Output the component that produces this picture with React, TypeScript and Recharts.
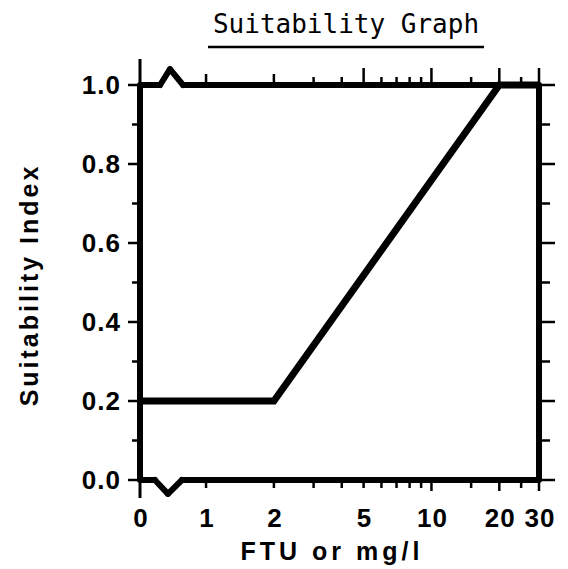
import { LineChart, Line, XAxis, YAxis, ReferenceLine } from 'recharts'

// curve: suitability index vs turbidity (FTU or mg/l)
const turbidity = [0, 2, 20, 30]
const suitability = [0.2, 0.2, 1.0, 1.0]

// x axis: 0 sits left of a break, the rest is log scale 1..30
const xTickValues = [0, 1, 2, 3, 4, 5, 6, 7, 8, 9, 10, 15, 20, 25, 30]
const xLabelled = [0, 1, 2, 5, 10, 20, 30]
const yTickValues = [0, 0.1, 0.2, 0.3, 0.4, 0.5, 0.6, 0.7, 0.8, 0.9, 1.0]
const yLabels = ['0.0', '', '0.2', '', '0.4', '', '0.6', '', '0.8', '', '1.0']

const ZERO_POS = -0.293
const U_MAX = Math.log10(30)
const toU = (v: number) => (v <= 0 ? ZERO_POS : Math.log10(v))

// axis-break marks on the frame (axis units)
const topFrame = [
  [ZERO_POS, 1],
  [-0.204, 1],
  [-0.16, 1.04],
  [-0.102, 1],
  [U_MAX, 1],
]
const bottomFrame = [
  [ZERO_POS, 0],
  [-0.227, 0],
  [-0.169, -0.035],
  [-0.107, 0],
  [U_MAX, 0],
]

const rows = turbidity.map((t, i) => ({ u: toU(t), si: suitability[i] }))

const FONT = "'Liberation Sans', Arial, Helvetica, sans-serif"
const W = 568
const H = 569
const M = { top: 85, right: 28, bottom: 88, left: 139 }
const TOP_Y = 86
const BOTTOM_Y = 480
const LEFT_X = 140
const RIGHT_X = 539
const PX = 1 / (BOTTOM_Y - TOP_Y)

const rawOf = (u: number) => xTickValues.find((v) => Math.abs(toU(v) - u) < 1e-6) ?? 0
const topTickLen = (v: number) => (v === 0 ? 26 : [5, 10, 20, 30].includes(v) ? 17 : [1, 2].includes(v) ? 11 : 8)

// ticks on the bottom edge of the frame
function XTick(props: any) {
  const { x, payload } = props
  const v = rawOf(payload.value)
  const lenB = v === 0 ? 18 : [10, 20, 30].includes(v) ? 11 : 8
  return (
    <g>
      <line x1={x} x2={x} y1={BOTTOM_Y} y2={BOTTOM_Y + lenB} stroke="#000" strokeWidth={v === 0 ? 3 : 2.5} />
      {xLabelled.includes(v) && (
        <text x={x + 1} y={BOTTOM_Y + 47} textAnchor="middle" fontFamily={FONT} fontWeight="bold" fontSize={26} letterSpacing={1} fill="#000">
          {v}
        </text>
      )}
    </g>
  )
}

// ticks on the left and the right edge of the frame
function YTick(props: any) {
  const { y, index } = props
  const label = yLabels[index]
  const lenL = label ? 12 : 8
  const lenR = label ? 16 : 11
  return (
    <g>
      <line x1={LEFT_X} x2={LEFT_X - lenL} y1={y} y2={y} stroke="#000" strokeWidth={2.5} />
      <line x1={RIGHT_X} x2={RIGHT_X + lenR} y1={y} y2={y} stroke="#000" strokeWidth={2.5} />
      {label && (
        <text x={LEFT_X - 19} y={y + 9} textAnchor="end" fontFamily={FONT} fontWeight="bold" fontSize={26} letterSpacing={1} fill="#000">
          {label}
        </text>
      )}
    </g>
  )
}

const renderXLabel = () => (
  <g>
    <text x={346} y={33} textAnchor="middle" fontFamily="'DejaVu Sans Mono', monospace" fontSize={26} fill="#000">
      Suitability Graph
    </text>
    <line x1={208} x2={484} y1={47} y2={47} stroke="#000" strokeWidth={2.5} />
    <text x={332} y={560} textAnchor="middle" fontFamily={FONT} fontWeight="bold" fontSize={25} letterSpacing={4} fill="#000">
      FTU or mg/l
    </text>
  </g>
)

const renderYLabel = () => (
  <text transform="translate(38,285) rotate(-90)" textAnchor="middle" fontFamily={FONT} fontWeight="bold" fontSize={25} letterSpacing={3} fill="#000">
    Suitability Index
  </text>
)

const segs = (pts: number[][]) => pts.slice(1).map((p, i) => [pts[i], p])

export default function App() {
  return (
    <div style={{ position: 'absolute', left: 0, top: 0, width: W, height: H, background: '#fff' }}>
      <LineChart width={W} height={H} data={rows} margin={M}>
        <XAxis
          xAxisId="b"
          type="number"
          dataKey="u"
          domain={[ZERO_POS, U_MAX]}
          ticks={xTickValues.map(toU)}
          interval={0}
          height={1}
          axisLine={false}
          tickLine={false}
          tickSize={0}
          tickMargin={0}
          tick={XTick}
          label={renderXLabel}
        />
        <YAxis
          yAxisId="l"
          type="number"
          domain={[0, 1]}
          ticks={yTickValues}
          interval={0}
          width={1}
          axisLine={{ stroke: '#000', strokeWidth: 6 }}
          tickLine={false}
          tickSize={0}
          tickMargin={0}
          tick={YTick}
          label={renderYLabel}
        />
        <YAxis
          yAxisId="r"
          orientation="right"
          type="number"
          domain={[0, 1]}
          width={1}
          axisLine={{ stroke: '#000', strokeWidth: 6 }}
          tickLine={false}
          tick={false}
        />
        {[...segs(topFrame), ...segs(bottomFrame)].map(([a, b], i) => (
          <ReferenceLine
            key={`f${i}`}
            xAxisId="b"
            yAxisId="l"
            segment={[
              { x: a[0], y: a[1] },
              { x: b[0], y: b[1] },
            ]}
            ifOverflow="visible"
            stroke="#000"
            strokeWidth={6}
            strokeLinecap="round"
          />
        ))}
        <Line
          xAxisId="b"
          yAxisId="l"
          type="linear"
          dataKey="si"
          stroke="#000"
          strokeWidth={7}
          strokeLinejoin="miter"
          dot={false}
          activeDot={false}
          isAnimationActive={false}
        />
        {xTickValues.map((v) => (
          <ReferenceLine
            key={`t${v}`}
            xAxisId="b"
            yAxisId="l"
            segment={[
              { x: toU(v) + 0.0001, y: 1 - 2 * PX },
              { x: toU(v), y: 1 + topTickLen(v) * PX },
            ]}
            ifOverflow="visible"
            stroke="#000"
            strokeWidth={v === 0 ? 3 : 2.5}
          />
        ))}
      </LineChart>
    </div>
  )
}
